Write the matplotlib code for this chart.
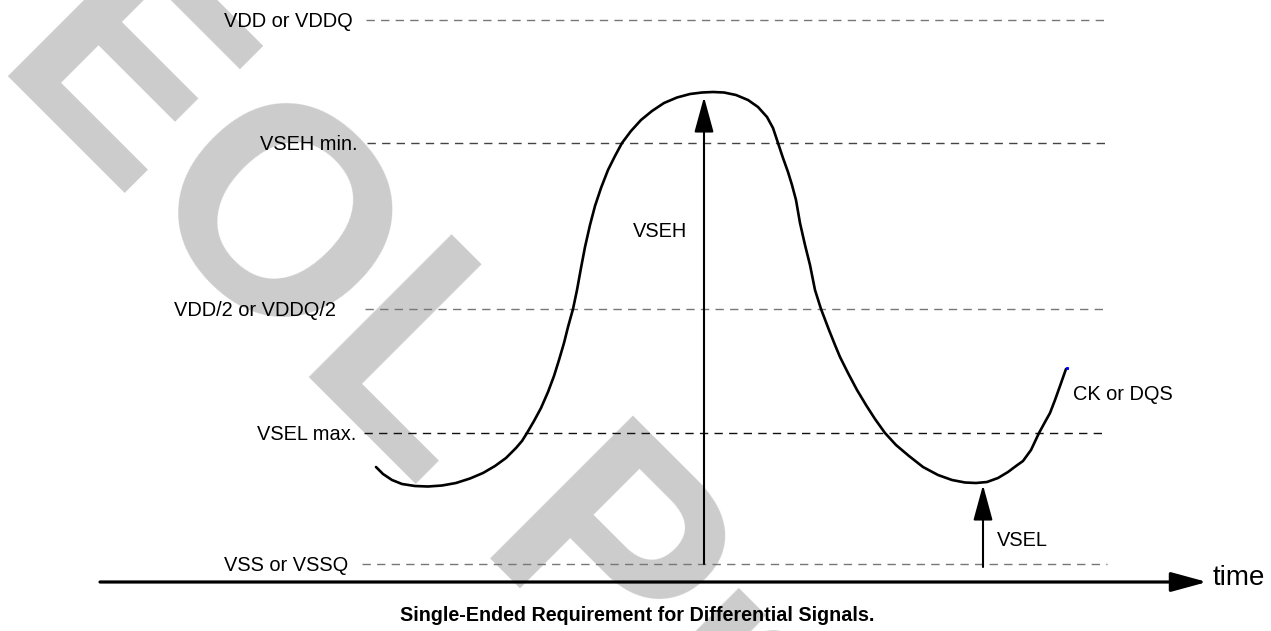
import matplotlib
matplotlib.use("Agg")
import matplotlib.pyplot as plt

plt.rcParams['font.family'] = ['Liberation Sans', 'DejaVu Sans']
plt.rcParams['lines.scale_dashes'] = False

# reference levels (diagram units, 0 = top of drawing, grows downward)
level_labels = ["VDD or VDDQ", "VSEH min.", "VDD/2 or VDDQ/2", "VSEL max.", "VSS or VSSQ"]
level_y = [20, 143, 309, 433, 564]
level_label_right = [353, 357, 336, 356, 348]
level_line_start = [366, 367, 365, 364, 362]
level_colors = ["#777777", "#444444", "#777777", "#111111", "#777777"]
line_end = 1107

# signal waveform (CK or DQS)
curve_t = [376, 383, 392, 402, 415, 428, 442, 456, 470, 483, 495, 506, 516, 522, 527,
           534, 541, 548, 554, 559, 564, 568, 573, 577, 581, 585, 590, 595, 601, 608,
           615, 622, 631, 641, 652, 664, 677, 690, 702, 713, 724, 736, 748, 758, 767,
           773, 778, 783, 788, 792, 796, 800, 805, 810, 815, 821, 829, 835, 840, 848,
           857, 866, 875, 885, 896, 909, 923, 938, 952, 965, 976, 987, 998, 1008, 1016,
           1023, 1031, 1039, 1045, 1050, 1055, 1060, 1066]
curve_v = [467, 474, 480, 484, 486, 486.5, 485.5, 483, 478.5, 473, 466, 458, 448, 441, 433,
           421, 408, 392, 376, 360, 343, 327, 309, 290, 268, 247, 225, 206, 188, 170,
           156, 143, 131, 120, 111, 103, 97.5, 94, 92.5, 92, 92.5, 95, 100, 107, 117,
           128, 143, 158, 172, 185, 200, 223, 245, 265, 290, 309, 330, 345, 357, 373,
           390, 405, 419, 433, 445, 456, 467, 475, 480, 482.5, 483, 482, 478, 472, 466,
           461, 450, 433, 422, 413, 400, 386, 369]

vseh_x, vseh_tip = 704, 97
vsel_x, vsel_tip = 983, 485

fig = plt.figure(figsize=(12.71, 6.31), dpi=100)
ax = fig.add_axes([0, 0, 1, 1])
ax.set_xlim(0, 1271)
ax.set_ylim(631, 0)
ax.axis('off')

# watermark
ax.text(-7, 62, "EOL Product", rotation=-45, rotation_mode='anchor',
        ha='left', va='baseline', fontsize=212, fontweight='bold',
        color='#cccccc', zorder=0)

# dashed reference levels with labels
for lab, y, xr, xs, c in zip(level_labels, level_y, level_label_right,
                             level_line_start, level_colors):
    ax.plot([xs, line_end], [y, y], color=c, lw=1, dashes=(6, 4.5), zorder=2)
    ax.text(xr, y + 7, lab, ha='right', va='baseline', fontsize=14.4, zorder=3)

# waveform
ax.plot(curve_t, curve_v, color='black', lw=1.9, solid_capstyle='round',
        solid_joinstyle='round', zorder=4)
ax.plot(curve_t[-1] + 1, curve_v[-1] - 1, 's', color='blue', ms=1.2, zorder=5)
ax.text(1073, 400, "CK or DQS", ha='left', va='baseline', fontsize=14.4)

# VSEH / VSEL arrows
arrow = dict(arrowstyle='-|>,head_length=2.2,head_width=0.6', color='black',
             lw=1.5, shrinkA=0, shrinkB=0, mutation_scale=10)
ax.annotate('', xy=(vseh_x, vseh_tip), xytext=(vseh_x, level_y[-1]), arrowprops=arrow, zorder=4)
ax.annotate('', xy=(vsel_x, vsel_tip), xytext=(vsel_x, level_y[-1] + 3), arrowprops=arrow, zorder=4)
ax.text(633, 237, "VSEH", ha='left', va='baseline', fontsize=14.4)
ax.text(997, 546, "VSEL", ha='left', va='baseline', fontsize=14.4)

# time axis
ax.annotate('', xy=(1207, 582), xytext=(100, 582),
            arrowprops=dict(arrowstyle='-|>,head_length=2.2,head_width=0.6',
                            color='black', lw=2.3, shrinkA=0, shrinkB=0,
                            mutation_scale=10), zorder=4)
ax.text(1213, 585, "time", ha='left', va='baseline', fontsize=20)

ax.text(637, 621, "Single-Ended Requirement for Differential Signals.",
        ha='center', va='baseline', fontsize=14.2, fontweight='bold')

fig.savefig("out.png", dpi=100)
